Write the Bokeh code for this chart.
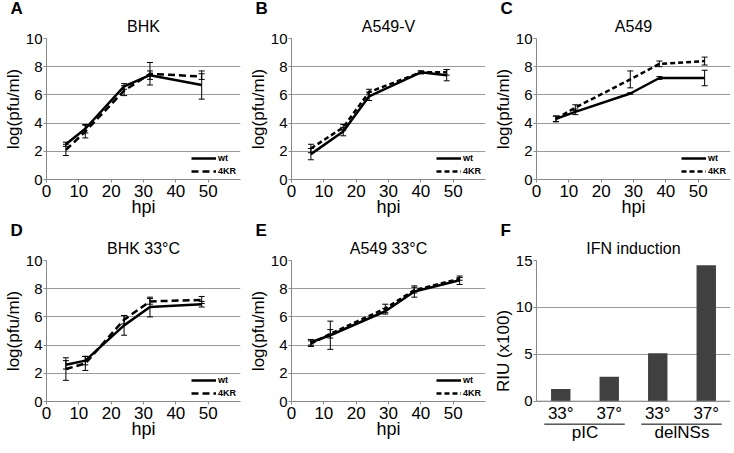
from bokeh.plotting import figure
from bokeh.models import FixedTicker, Title, Whisker, TeeHead, ColumnDataSource, Span
from bokeh.layouts import column, row
from bokeh.embed import file_html
from bokeh.resources import INLINE
from bokeh.core.properties import value

FONT = "Liberation Sans"
GRID = "#9a9a9a"
AXIS = "#8a8a8a"

# ---------------- data ----------------
x_ticks = [0, 10, 20, 30, 40, 50]
y_ticks = [0, 2, 4, 6, 8, 10]

# A: BHK
hpi_a = [6, 12, 24, 32, 48]
wt_a = [2.5, 3.6, 6.6, 7.4, 6.7]
wt_a_err = [0.15, 0.3, 0.2, 0.3, 1.0]
kr_a = [2.1, 3.4, 6.3, 7.5, 7.3]
kr_a_err = [0.4, 0.45, 0.35, 0.8, 0.2]

# B: A549-V
hpi_b = [6, 16, 24, 40, 48]
wt_b = [1.8, 3.4, 5.9, 7.6, 7.4]
wt_b_err = [0.4, 0.3, 0.3, 0.1, 0.4]
kr_b = [2.2, 3.7, 6.2, 7.6, 7.6]
kr_b_err = [0.3, 0.2, 0.2, 0.1, 0.2]

# C: A549
hpi_c = [6, 12, 29, 38, 52]
wt_c = [4.3, 4.8, 6.1, 7.2, 7.2]
wt_c_err = [0.2, 0.2, 0.05, 0.1, 0.55]
kr_c = [4.3, 5.1, 7.1, 8.2, 8.4]
kr_c_err = [0.2, 0.2, 0.6, 0.2, 0.28]

# D: BHK 33°C
hpi_d = [6, 12, 24, 32, 48]
wt_d = [2.6, 2.9, 5.4, 6.7, 6.9]
wt_d_err = [0.3, 0.3, 0.7, 0.7, 0.2]
kr_d = [2.3, 2.7, 5.8, 7.1, 7.2]
kr_d_err = [0.8, 0.5, 0.3, 0.2, 0.25]

# E: A549 33°C
hpi_e = [6, 12, 29, 38, 52]
wt_e = [4.2, 4.7, 6.4, 7.8, 8.6]
wt_e_err = [0.2, 1.0, 0.2, 0.4, 0.3]
kr_e = [4.1, 4.8, 6.6, 7.9, 8.7]
kr_e_err = [0.2, 0.3, 0.3, 0.2, 0.1]

# F: IFN induction
f_temps = ["33°", "37°", "33°", "37°"]
f_groups = ["pIC", "pIC", "delNSs", "delNSs"]
f_riu = [1.3, 2.6, 5.1, 14.5]
f_y_ticks = [0, 5, 10, 15]

FRAME_W = 194
FRAME_H = 141
LEFT = 40


def add_titles(p, letter, title):
    p.add_layout(Title(text=title, align="center", text_font=FONT, text_font_size="16px",
                       text_font_style="normal", text_color="black", standoff=7), "above")
    p.add_layout(Title(text=letter, align="left", offset=-(LEFT - 4), text_font=FONT,
                       text_font_size="17px", text_font_style="bold", text_color="black",
                       standoff=-11), "above")


def style_axes(p):
    p.outline_line_color = None
    p.xgrid.visible = False
    p.ygrid.grid_line_color = GRID
    p.ygrid.grid_line_width = 1
    for ax in p.axis:
        ax.axis_line_color = AXIS
        ax.major_tick_line_color = AXIS
        ax.major_tick_in = 0
        ax.major_tick_out = 3
        ax.minor_tick_line_color = None
        ax.major_label_text_color = "black"
        ax.major_label_text_font = FONT
        ax.axis_label_text_font = FONT
        ax.axis_label_text_font_style = "normal"
        ax.axis_label_text_color = "black"
    p.yaxis.major_label_text_font_size = "15px"
    p.yaxis.axis_label_text_font_size = "17px"
    p.yaxis.major_label_standoff = 1
    p.yaxis.axis_label_standoff = 0


def growth_panel(letter, title, hpi, wt, wt_err, kr, kr_err, dash, right, bottom):
    p = figure(frame_width=FRAME_W, frame_height=FRAME_H, x_range=(0, 60), y_range=(0, 10),
               title=None, toolbar_location=None, output_backend="svg",
               min_border_left=LEFT, min_border_right=right,
               min_border_top=38, min_border_bottom=bottom)
    add_titles(p, letter, title)
    p.xaxis.ticker = FixedTicker(ticks=x_ticks)
    p.yaxis.ticker = FixedTicker(ticks=y_ticks)
    p.xaxis.axis_label = "hpi"
    p.yaxis.axis_label = "log(pfu/ml)"
    style_axes(p)
    p.xaxis.major_label_text_font_size = "17px"
    p.xaxis.axis_label_text_font_size = "18px"
    p.xaxis.major_label_standoff = 2
    p.xaxis.axis_label_standoff = -3

    for vals, errs in ((kr, kr_err), (wt, wt_err)):
        src = ColumnDataSource(dict(x=hpi,
                                    lo=[v - e for v, e in zip(vals, errs)],
                                    hi=[v + e for v, e in zip(vals, errs)]))
        p.add_layout(Whisker(source=src, base="x", lower="lo", upper="hi",
                             line_color="black", line_width=1, level="glyph",
                             upper_head=TeeHead(size=6, line_color="black", line_width=1),
                             lower_head=TeeHead(size=6, line_color="black", line_width=1)))

    p.line(hpi, wt, line_color="black", line_width=2.5, legend_label="wt")
    p.line(hpi, kr, line_color="black", line_width=2.5, line_dash=dash, legend_label="4KR")

    lg = p.legend[0]
    lg.location = "bottom_right"
    lg.border_line_color = None
    lg.background_fill_alpha = 0
    lg.label_text_font = "Liberation Sans Narrow, Liberation Sans"
    lg.label_text_font_size = "9px"
    lg.label_text_font_style = "bold"
    lg.label_text_color = "black"
    lg.glyph_width = 25
    lg.glyph_height = 12
    lg.label_height = 12
    lg.label_standoff = 2
    lg.spacing = 1
    lg.padding = 0
    lg.margin = 2
    return p


def bar_panel(letter, title, right, bottom):
    # frame extends below zero so that category labels can be drawn as data text
    y_lo = -4.3
    fh = int(round(FRAME_H * (15 - y_lo) / 15))
    p = figure(frame_width=FRAME_W, frame_height=fh, x_range=(-0.5, 3.5), y_range=(y_lo, 15),
               title=None, toolbar_location=None, output_backend="svg", x_axis_location=None,
               min_border_left=LEFT, min_border_right=right,
               min_border_top=38, min_border_bottom=bottom)
    add_titles(p, letter, title)
    p.yaxis.ticker = FixedTicker(ticks=f_y_ticks)
    p.yaxis.bounds = (0, 15)
    p.yaxis.axis_label = "RIU (x100)"
    style_axes(p)

    idx = list(range(len(f_riu)))
    p.vbar(x=idx, top=f_riu, bottom=0, width=0.4, fill_color="#404040", line_color=None)
    p.add_layout(Span(location=0, dimension="width", line_color=AXIS, line_width=1))

    p.text(x=idx, y=[-1.35] * len(idx), text=f_temps, text_align="center",
           text_baseline="middle", text_font=value(FONT), text_font_size="17px",
           text_color="black")

    groups = []
    for i, g in enumerate(f_groups):
        if not groups or groups[-1][0] != g:
            groups.append([g, i, i])
        else:
            groups[-1][2] = i
    gx = [(a + b) / 2 for _, a, b in groups]
    p.segment(x0=[a - 0.34 for _, a, b in groups], x1=[b + 0.32 for _, a, b in groups],
              y0=[-2.45] * len(groups), y1=[-2.45] * len(groups),
              line_color="black", line_width=1)
    p.text(x=gx, y=[-3.3] * len(groups), text=[g for g, _, _ in groups], text_align="center",
           text_baseline="middle", text_font=value(FONT), text_font_size="17px",
           text_color="black")
    return p


pa = growth_panel("A", "BHK", hpi_a, wt_a, wt_a_err, kr_a, kr_a_err, "7 4", 5, 43)
pb = growth_panel("B", "A549-V", hpi_b, wt_b, wt_b_err, kr_b, kr_b_err, "5 3", 5, 43)
pc = growth_panel("C", "A549", hpi_c, wt_c, wt_c_err, kr_c, kr_c_err, "5 3", 6, 43)
pd = growth_panel("D", "BHK 33°C", hpi_d, wt_d, wt_d_err, kr_d, kr_d_err, "7 4", 5, 43)
pe = growth_panel("E", "A549 33°C", hpi_e, wt_e, wt_e_err, kr_e, kr_e_err, "5 3", 5, 43)
pf = bar_panel("F", "IFN induction", 6, 2)

layout = row(column(pa, pd), column(pb, pe), column(pc, pf))

open("out.html", "w").write(file_html(layout, INLINE))
